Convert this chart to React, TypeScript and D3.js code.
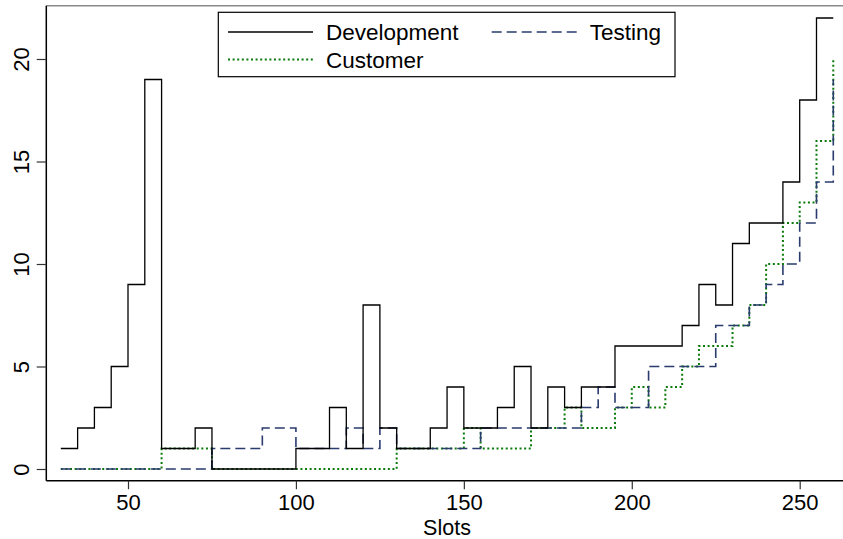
import React, { useEffect, useRef } from 'react';
import * as d3 from 'd3';

// slot positions: 30, 35, ..., 260
const slots = d3.range(30, 261, 5);
const development = [1, 2, 3, 5, 9, 19, 1, 1, 2, 0, 0, 0, 0, 0, 1, 1, 3, 1, 8, 2, 1, 1, 2, 4, 2, 2, 3, 5, 2, 4, 3, 4, 4, 6, 6, 6, 6, 7, 9, 8, 11, 12, 12, 14, 18, 22, 22];
const testing = [0, 0, 0, 0, 0, 0, 0, 0, 0, 1, 1, 1, 2, 2, 1, 1, 1, 2, 1, 2, 1, 1, 1, 1, 1, 2, 2, 2, 2, 2, 2, 3, 4, 3, 3, 5, 5, 5, 5, 7, 7, 8, 9, 10, 12, 14, 19];
const customer = [0, 0, 0, 0, 0, 0, 1, 1, 1, 0, 0, 0, 0, 0, 0, 0, 0, 0, 0, 0, 1, 1, 1, 1, 2, 1, 1, 1, 2, 2, 3, 2, 2, 3, 4, 3, 4, 5, 6, 6, 7, 8, 10, 12, 13, 16, 20];
const xTicks = [50, 100, 150, 200, 250];
const yTicks = [0, 5, 10, 15, 20];

const W = 843;
const H = 539;
const font = '"Liberation Sans", Arial, sans-serif';

const series = [
  { name: 'Development', values: development, color: '#000000', width: 1.3, dash: null },
  { name: 'Testing', values: testing, color: '#2a3b6e', width: 1.6, dash: '10,5' },
  { name: 'Customer', values: customer, color: '#0a7a0a', width: 2, dash: '2,2.6' },
];

export default function App() {
  const ref = useRef<SVGSVGElement>(null);

  useEffect(() => {
    const svg = d3.select(ref.current);
    svg.selectAll('*').remove();

    const x = d3.scaleLinear().domain([50, 250]).range([128, 799.7]);
    const y = d3.scaleLinear().domain([0, 20]).range([469, 59]);

    const left = 46.3;
    const bottom = 480.7;
    const top = 5.7;

    // plot region border (top)
    svg.append('line')
      .attr('x1', left).attr('x2', W)
      .attr('y1', top).attr('y2', top)
      .attr('stroke', '#8a8a8a').attr('stroke-width', 1.5);

    // lines
    const line = d3.line<number>()
      .x((d, i) => x(slots[i]))
      .y((d) => y(d))
      .curve(d3.curveStepAfter);

    series.slice().reverse().forEach((s) => {
      svg.append('path')
        .datum(s.values)
        .attr('d', line)
        .attr('fill', 'none')
        .attr('stroke', s.color)
        .attr('stroke-width', s.width)
        .attr('stroke-dasharray', s.dash);
    });

    // y axis
    const yAxis = svg.append('g').attr('transform', `translate(${left},0)`)
      .call(d3.axisLeft(y).tickValues(yTicks).tickSize(9.6).tickSizeOuter(0).tickFormat(d3.format('d')));
    yAxis.select('.domain').attr('d', `M0,${top}V${bottom}`).attr('stroke', '#000').attr('stroke-width', 1.5);
    yAxis.selectAll('.tick line').attr('stroke', '#333').attr('stroke-width', 1.2);
    yAxis.selectAll('.tick text')
      .attr('x', null).attr('dy', null)
      .attr('transform', 'translate(-25.3,0) rotate(-90)')
      .attr('text-anchor', 'middle')
      .attr('dominant-baseline', 'central')
      .attr('font-family', font).attr('font-size', 22).attr('fill', '#000');

    // x axis
    const xAxis = svg.append('g').attr('transform', `translate(0,${bottom})`)
      .call(d3.axisBottom(x).tickValues(xTicks).tickSize(8.5).tickSizeOuter(0).tickFormat(d3.format('d')));
    xAxis.select('.domain').attr('d', `M${left},0H${W}`).attr('stroke', '#000').attr('stroke-width', 1.5);
    xAxis.selectAll('.tick line').attr('stroke', '#333').attr('stroke-width', 1.2);
    xAxis.selectAll('.tick text')
      .attr('y', 29.5).attr('dy', null)
      .attr('font-family', font).attr('font-size', 22).attr('fill', '#000');

    svg.append('text')
      .attr('x', 447).attr('y', 535)
      .attr('text-anchor', 'middle')
      .attr('font-family', font).attr('font-size', 21.5)
      .text('Slots');

    // legend
    const lg = svg.append('g');
    lg.append('rect')
      .attr('x', 218.3).attr('y', 12.3)
      .attr('width', 675 - 218.3).attr('height', 76.7 - 12.3)
      .attr('fill', '#fff').attr('stroke', '#000').attr('stroke-width', 1.2);
    const items = [
      { s: series[0], x: 228, y: 32 },
      { s: series[1], x: 491.7, y: 32 },
      { s: series[2], x: 228, y: 59.5 },
    ];
    items.forEach(({ s, x: lx, y: ly }) => {
      lg.append('line')
        .attr('x1', lx).attr('x2', lx + 85)
        .attr('y1', ly).attr('y2', ly)
        .attr('stroke', s.color)
        .attr('stroke-width', s.width)
        .attr('stroke-dasharray', s.dash);
      lg.append('text')
        .attr('x', lx + 98).attr('y', ly + 8)
        .attr('font-family', font).attr('font-size', 22.5)
        .text(s.name);
    });
  }, []);

  return (
    <svg
      ref={ref}
      width={W}
      height={H}
      style={{ position: 'absolute', left: 0, top: 0, background: '#fff' }}
    />
  );
}
